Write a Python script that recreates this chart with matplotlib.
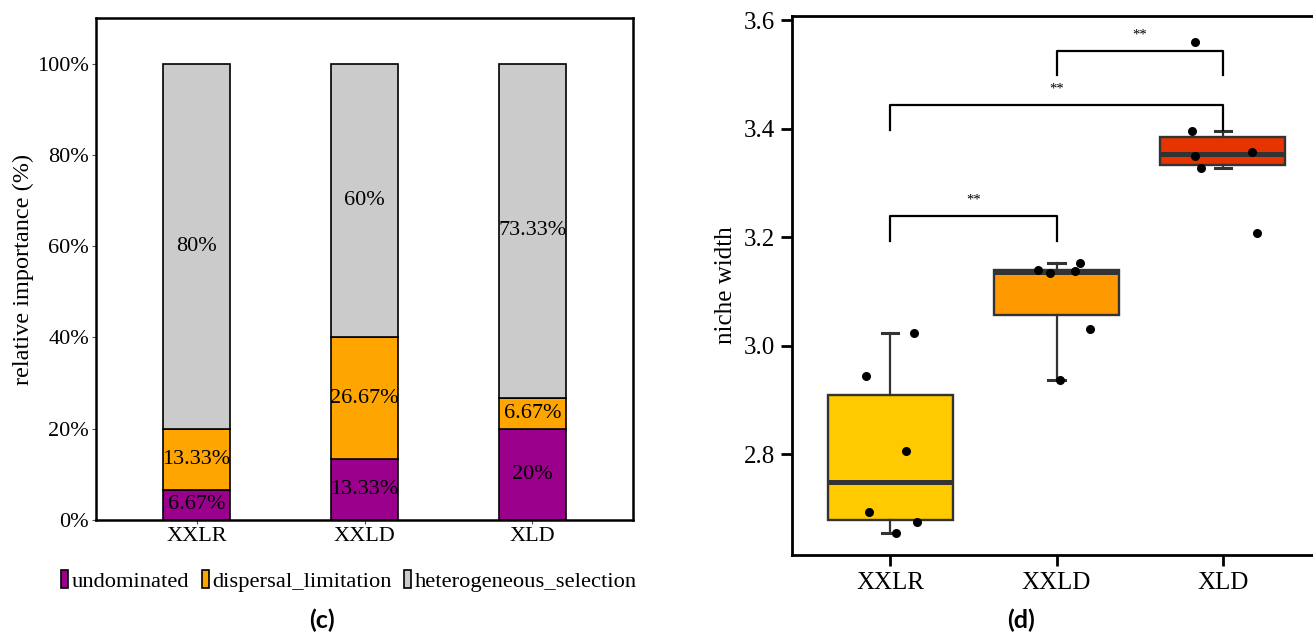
import matplotlib.pyplot as plt
import numpy as np

plt.rcParams["font.family"] = ["Liberation Serif", "DejaVu Serif"]

# panel (c): relative importance (%)
categories = ["XXLR", "XXLD", "XLD"]
undominated = [6.67, 13.33, 20]
dispersal_limitation = [13.33, 26.67, 6.67]
heterogeneous_selection = [80, 60, 73.33]
process_names = ["undominated", "dispersal_limitation", "heterogeneous_selection"]
process_colors = ["#9A008C", "#FFA500", "#CBCBCB"]

# panel (d): niche width per sample, with the horizontal jitter seen in the figure
niche_xxlr = [2.944, 3.023, 2.805, 2.693, 2.674, 2.655]
niche_xxld = [3.140, 3.134, 3.138, 3.152, 3.031, 2.936]
niche_xld = [3.560, 3.395, 3.349, 3.327, 3.358, 3.208]
jitter_xxlr = [-0.145, 0.142, 0.096, -0.13, 0.163, 0.036]
jitter_xxld = [-0.112, -0.04, 0.112, 0.143, 0.199, 0.024]
jitter_xld = [-0.169, -0.186, -0.166, -0.129, 0.177, 0.203]
box_colors = ["#FFCA00", "#FF9900", "#E63300"]

# significance brackets: (group a, group b, bracket top, tick bottom, label)
sig_pairs = [(0, 1), (0, 2), (1, 2)]
sig_top = [3.240, 3.444, 3.544]
sig_bottom = [3.193, 3.397, 3.499]
sig_labels = ["**", "**", "**"]

W, H = 1313, 632
fig = plt.figure(figsize=(W / 100, H / 100), dpi=100)


def px_axes(left, top, right, bottom):
    return fig.add_axes([left / W, 1 - bottom / H, (right - left) / W, (bottom - top) / H])


# ---------------- (c) stacked bars ----------------
ax1 = px_axes(96, 18, 633, 520)
x = np.arange(len(categories))
layers = [undominated, dispersal_limitation, heterogeneous_selection]
base = np.zeros(len(categories))
for vals, name, col in zip(layers, process_names, process_colors):
    vals = np.array(vals) / 100
    ax1.bar(x, vals, bottom=base, width=0.4, color=col, edgecolor="black",
            linewidth=1.2, label=name)
    for xi, b, v in zip(x, base, vals):
        ax1.text(xi, b + v / 2, f"{v * 100:g}%", ha="center", va="center", fontsize=16)
    base = base + vals

ax1.set_xlim(-0.6, 2.6)
ax1.set_ylim(0, 1.10)
ax1.set_yticks([0, 0.2, 0.4, 0.6, 0.8, 1.0])
ax1.set_yticklabels(["0%", "20%", "40%", "60%", "80%", "100%"])
ax1.set_xticks(x)
ax1.set_xticklabels(categories)
ax1.tick_params(axis="both", labelsize=16, length=3, width=0.8, color="#555555", pad=2)
for s in ax1.spines.values():
    s.set_linewidth(1.8)
ax1.set_ylabel("relative importance (%)", fontsize=17.5)
ax1.yaxis.set_label_coords(-0.115, 0.5)
fig.legend(*ax1.get_legend_handles_labels(), loc="center", ncol=3,
           bbox_to_anchor=(349 / W, 1 - 581 / H), frameon=False, fontsize=16.2,
           handlelength=0.32, handleheight=0.8, handletextpad=0.15, columnspacing=0.55)
fig.text(322 / W, 1 - 620 / H, "(c)", ha="center", va="center", fontsize=18,
         fontweight="bold", family=["Lato", "DejaVu Sans"])

# ---------------- (d) box plots ----------------
ax2 = px_axes(792, 16, 1321, 555)
groups = [niche_xxlr, niche_xxld, niche_xld]
jitters = [jitter_xxlr, jitter_xxld, jitter_xld]
bp = ax2.boxplot(groups, positions=x, widths=0.75, patch_artist=True, showfliers=False,
                 capwidths=0.1,
                 boxprops=dict(edgecolor="#333333", linewidth=1.7),
                 whiskerprops=dict(color="#333333", linewidth=1.6),
                 capprops=dict(color="#333333", linewidth=2.2),
                 medianprops=dict(color="#333333", linewidth=3.6))
for patch, col in zip(bp["boxes"], box_colors):
    patch.set_facecolor(col)
for i, (vals, jit) in enumerate(zip(groups, jitters)):
    ax2.scatter(i + np.array(jit), vals, s=30, color="black", zorder=4)

for (a, b), top, bot, lab in zip(sig_pairs, sig_top, sig_bottom, sig_labels):
    ax2.plot([a, a, b, b], [bot, top, top, bot], color="black", linewidth=1.6)
    ax2.text((a + b) / 2, top + 0.017, lab, ha="center", va="bottom", fontsize=10.5)

ax2.set_xlim(-0.59, 2.59)
ax2.set_ylim(2.614, 3.608)
ax2.set_yticks([2.8, 3.0, 3.2, 3.4, 3.6])
ax2.set_yticklabels(["2.8", "3.0", "3.2", "3.4", "3.6"])
ax2.set_xticks(x)
ax2.set_xticklabels(categories)
ax2.tick_params(axis="both", labelsize=18, length=8, width=2, color="black", pad=4)
for s in ax2.spines.values():
    s.set_linewidth(2)
ax2.set_ylabel("niche width", fontsize=18)
ax2.yaxis.set_label_coords(-0.104, 0.5)
fig.text(1021 / W, 1 - 620 / H, "(d)", ha="center", va="center", fontsize=18,
         fontweight="bold", family=["Lato", "DejaVu Sans"])

fig.savefig("out.png", dpi=100)
